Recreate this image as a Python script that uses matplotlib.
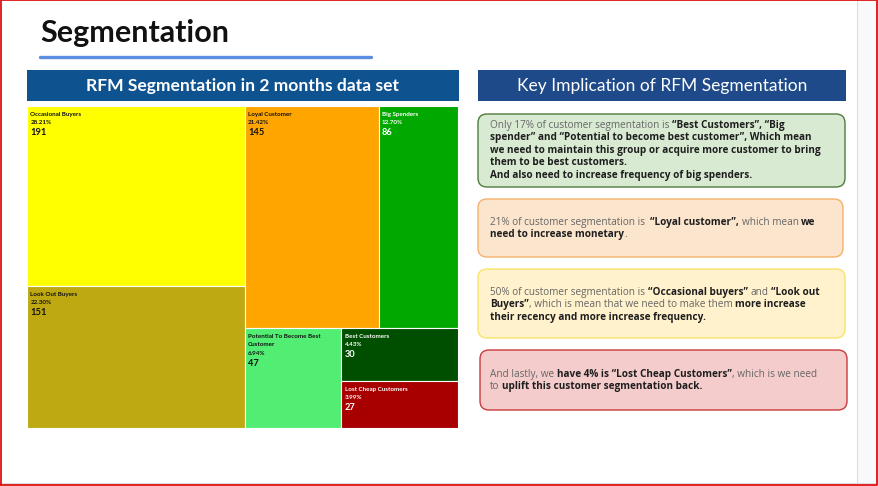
import matplotlib
matplotlib.use('Agg')
import matplotlib.pyplot as plt
from matplotlib.patches import Rectangle, FancyBboxPatch

plt.rcParams['font.family'] = ['Lato', 'DejaVu Sans']

# Data
segments = ['Occasional Buyers', 'Loyal Customer', 'Big Spenders', 'Look Out Buyers',
            'Potential To Become Best\nCustomer', 'Best Customers', 'Lost Cheap Customers']
counts = [191, 145, 86, 151, 47, 30, 27]
shares = ['28.21%', '21.42%', '12.70%', '22.30%', '6.94%', '4.43%', '3.99%']
seg_colors = ['#ffff00', '#fea500', '#00a800', '#bfa913', '#52ee74', '#004f00', '#a80000']
text_colors = ['#111111', '#111111', 'white', '#111111', '#111111', 'white', 'white']
# nesting of the treemap (indices into the lists above)
tree = [[0, 3], [[1, 2], [4, [5, 6]]]]

# Key implication boxes: lines of (text, bold)
notes = [
    [[('Only 17% of customer segmentation is ', False), ('\u201cBest Customers\u201d, \u201cBig', True)],
     [('spender\u201d and \u201cPotential to become best customer\u201d, Which mean', True)],
     [('we need to maintain this group or acquire more customer to bring', True)],
     [('them to be best customers.', True)],
     [('And also need to increase frequency of big spenders.', True)]],
    [[('21% of customer segmentation is  ', False), ('\u201cLoyal customer\u201d,', True),
      (' which mean ', False), ('we', True)],
     [('need to increase monetary', True), ('.', False)]],
    [[('50% of customer segmentation is ', False), ('\u201cOccasional buyers\u201d', True),
      (' and ', False), ('\u201cLook out', True)],
     [('Buyers\u201d', True), (', which is mean that we need to make them ', False), ('more increase', True)],
     [('their recency and more increase frequency.', True)]],
    [[('And lastly, we ', False), ('have 4% is \u201cLost Cheap Customers\u201d', True),
      (', which is we need', False)],
     [('to ', False), ('uplift this customer segmentation back.', True)]],
]
note_fill = ['#d9ead3', '#fce5cd', '#fff2cc', '#f4cccc']
note_edge = ['#4f7a3a', '#f3b26b', '#f7e36a', '#c83a3a']
# box x0, y0, x1, y1 and first text line (pixels)
note_box = [(478, 114, 845, 187), (478, 199, 843, 257), (478, 269, 845, 338), (480, 350, 847, 410)]
note_text_y = [125, 222, 292, 374]


def layout(node, x, y, w, h, depth, out):
    if isinstance(node, int):
        out.append((node, x, y, w, h))
        return
    def total(n):
        return counts[n] if isinstance(n, int) else sum(total(c) for c in n)
    tot = total(node)
    pos = 0.0
    for child in node:
        frac = total(child) / tot
        if depth % 2 == 0:
            layout(child, x + pos * w, y, w * frac, h, depth + 1, out)
        else:
            layout(child, x, y + pos * h, w, h * frac, depth + 1, out)
        pos += frac


fig = plt.figure(figsize=(8.79, 4.86), dpi=100)
bg = fig.add_axes([0, 0, 1, 1])
bg.set_xlim(0, 879)
bg.set_ylim(486, 0)
bg.axis('off')

# page frame
bg.add_patch(Rectangle((857, 0), 22, 486, facecolor='#f8f9fb', edgecolor='none'))
bg.plot([857, 857], [0, 483], color='#dcdde0', lw=0.8)
bg.plot([0, 879], [483, 483], color='#dcdde0', lw=0.8)
bg.plot([1, 1, 877.5, 877.5, 1], [485, 0.5, 0.5, 485, 485], color='#dd1111', lw=1.3)

# title
bg.text(40, 42, 'Segmentation', fontsize=22, fontweight='bold', color='#111111', va='baseline')
bg.plot([40, 371], [57, 57], color='#5b8ee0', lw=2.4, solid_capstyle='round')

# banners
bg.add_patch(Rectangle((27, 70), 432, 31, facecolor='#0f5290', edgecolor='none'))
bg.text(243, 86, 'RFM Segmentation in 2 months data set', color='white', fontsize=12.6,
        fontweight='bold', ha='center', va='center')
bg.add_patch(Rectangle((478, 70), 368, 31, facecolor='#1f4a8a', edgecolor='none'))
bg.text(662, 86, 'Key Implication of RFM Segmentation', color='white', fontsize=12.5,
        ha='center', va='center')

# treemap
tm = fig.add_axes([27 / 879, 1 - 428 / 486, 431 / 879, 322 / 486])
tm.set_xlim(0, 1)
tm.set_ylim(1, 0)
tm.axis('off')
cells = []
layout(tree, 0, 0, 1, 1, 0, cells)
for i, x, y, w, h in cells:
    tm.add_patch(Rectangle((x, y), w, h, facecolor=seg_colors[i], edgecolor='white', lw=0.8))
    nlines = segments[i].count('\n') + 1
    tm.annotate(segments[i], (x, y), xytext=(2.5, -4.3), textcoords='offset points',
                fontsize=4.5, fontweight='bold', color=text_colors[i], va='top', ha='left',
                linespacing=1.8)
    off = -4.3 - 6.0 * nlines
    tm.annotate(shares[i], (x, y), xytext=(2.5, off), textcoords='offset points',
                fontsize=4.5, fontweight='bold', color=text_colors[i], va='top', ha='left')
    tm.annotate(str(counts[i]), (x, y), xytext=(2.5, off - 5.8), textcoords='offset points',
                fontsize=6.7, fontweight='bold', color=text_colors[i], va='top', ha='left')

# key implication notes
renderer = fig.canvas.get_renderer()
fs = 7.2
nf = ['Open Sans', 'DejaVu Sans']
probe = bg.text(0, 0, 'a a', fontsize=fs, family=nf)
probe2 = bg.text(0, 0, 'aa', fontsize=fs, family=nf)
space_w = probe.get_window_extent(renderer).width - probe2.get_window_extent(renderer).width
probe.remove()
probe2.remove()

for k, lines in enumerate(notes):
    x0, y0, x1, y1 = note_box[k]
    bg.add_patch(FancyBboxPatch((x0, y0), x1 - x0, y1 - y0,
                                boxstyle='round,pad=0,rounding_size=9',
                                facecolor=note_fill[k], edgecolor=note_edge[k], lw=1.0))
    ty = note_text_y[k]
    for line in lines:
        tx = 490
        for txt, bold in line:
            lead = len(txt) - len(txt.lstrip(' '))
            trail = len(txt) - len(txt.rstrip(' '))
            core = txt.strip(' ')
            tx += lead * space_w
            t = bg.text(tx, ty, core, fontsize=fs, va='center', ha='left', family=nf,
                        fontweight='bold' if bold else 'normal',
                        color='#1e1e1e' if bold else '#666666')
            tx += t.get_window_extent(renderer).width + trail * space_w
        ty += 12.6

fig.savefig('out.png', dpi=100)
